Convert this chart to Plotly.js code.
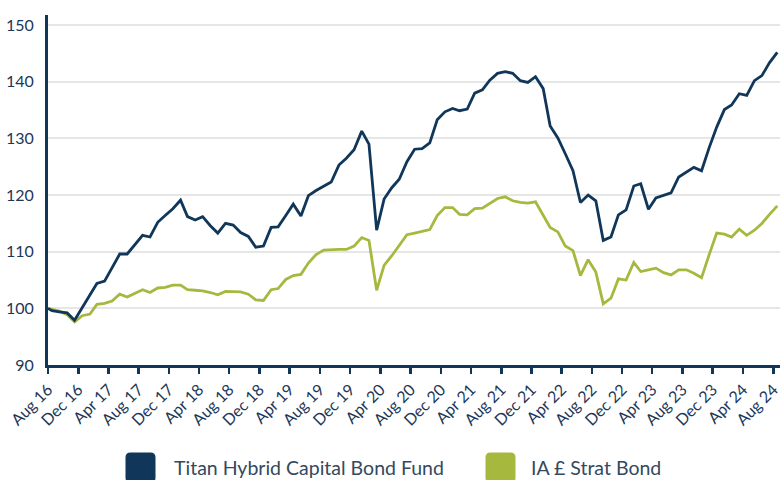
<!DOCTYPE html>
<html>
<head>
<meta charset="utf-8">
<script src="https://cdn.plot.ly/plotly-3.0.1.min.js"></script>
<style>html,body{margin:0;padding:0;background:#fff;}#chart{width:780px;height:480px;}</style>
</head>
<body>
<div id="chart"></div>
<script>
// Series names
const seriesNames = ["Titan Hybrid Capital Bond Fund", "IA £ Strat Bond"];

// Start date (launch) followed by month-end dates Aug 2016 .. Aug 2024
const startDate = "2016-08-15";
const firstMonthEnd = [2016, 8];
const monthCount = 97;

// Titan Hybrid Capital Bond Fund (rebased to 100)
const titan = [
  100.0, 99.6, 99.4, 99.2, 97.9, 100.1, 102.2, 104.4, 104.8, 107.2,
  109.6, 109.6, 111.2, 112.9, 112.6, 115.2, 116.4, 117.6, 119.1, 116.2,
  115.6, 116.2, 114.6, 113.3, 115.0, 114.7, 113.4, 112.7, 110.8, 111.0,
  114.3, 114.4, 116.4, 118.4, 116.3, 119.9, 120.8, 121.6, 122.3, 125.3,
  126.5, 128.0, 131.3, 129.0, 113.8, 119.3, 121.3, 122.8, 125.9, 128.1,
  128.2, 129.2, 133.3, 134.7, 135.3, 134.9, 135.2, 138.0, 138.6, 140.3,
  141.5, 141.8, 141.5, 140.2, 139.9, 140.9, 138.8, 132.2, 130.1, 127.3,
  124.3, 118.7, 120.0, 119.0, 112.0, 112.6, 116.5, 117.4, 121.6, 122.0,
  117.5, 119.5, 119.9, 120.4, 123.2, 124.0, 124.9, 124.3, 128.3, 132.0,
  135.1, 135.9, 137.9, 137.6, 140.2, 141.1, 143.4, 145.2
];

// IA £ Strat Bond sector (rebased to 100)
const iaStratBond = [
  100.0, 99.8, 99.5, 98.9, 97.6, 98.7, 99.0, 100.7, 100.9, 101.3,
  102.5, 102.0, 102.7, 103.3, 102.8, 103.6, 103.7, 104.1, 104.1, 103.3,
  103.2, 103.1, 102.8, 102.4, 103.0, 103.0, 102.9, 102.5, 101.5, 101.4,
  103.3, 103.5, 105.1, 105.8, 106.0, 108.0, 109.5, 110.3, 110.4, 110.4,
  110.4, 111.0, 112.5, 112.0, 103.2, 107.6, 109.3, 111.2, 113.0, 113.3,
  113.6, 113.9, 116.4, 117.8, 117.8, 116.6, 116.5, 117.6, 117.7, 118.6,
  119.4, 119.7, 119.0, 118.7, 118.6, 118.8, 116.5, 114.3, 113.5, 111.0,
  110.2, 105.8, 108.6, 106.4, 100.8, 101.8, 105.2, 105.0, 108.1, 106.5,
  106.8, 107.1, 106.3, 105.9, 106.8, 106.8, 106.2, 105.4, 109.4, 113.3,
  113.1, 112.6, 114.0, 112.9, 113.8, 115.0, 116.6, 118.1
];

// X tick positions and labels
const tickDates = [
  "2016-08-15","2016-12-15","2017-04-15","2017-08-15","2017-12-15",
  "2018-04-15","2018-08-15","2018-12-15","2019-04-15","2019-08-15",
  "2019-12-15","2020-04-15","2020-08-15","2020-12-15","2021-04-15",
  "2021-08-15","2021-12-15","2022-04-15","2022-08-15","2022-12-15",
  "2023-04-15","2023-08-15","2023-12-15","2024-04-15","2024-08-15"
];
const tickLabels = [
  "Aug 16","Dec 16","Apr 17","Aug 17","Dec 17","Apr 18","Aug 18","Dec 18",
  "Apr 19","Aug 19","Dec 19","Apr 20","Aug 20","Dec 20","Apr 21","Aug 21",
  "Dec 21","Apr 22","Aug 22","Dec 22","Apr 23","Aug 23","Dec 23","Apr 24","Aug 24"
];
const yTicks = [90, 100, 110, 120, 130, 140, 150];

// Build date categories
function pad(n){ return (n < 10 ? "0" : "") + n; }
const dates = [startDate];
for (let k = 0; k < monthCount; k++) {
  const m0 = firstMonthEnd[1] - 1 + k;
  const y = firstMonthEnd[0] + Math.floor(m0 / 12);
  const m = (m0 % 12) + 1;
  const last = new Date(Date.UTC(y, m, 0)).getUTCDate();
  dates.push(y + "-" + pad(m) + "-" + pad(last));
}

const NAVY = "#103759";
const GREEN = "#a7b83f";
const TEXT = "#1d3757";

const traces = [
  { x: dates, y: iaStratBond, type: "scatter", mode: "lines", name: seriesNames[1],
    line: { color: GREEN, width: 2.8 }, showlegend: false },
  { x: dates, y: titan, type: "scatter", mode: "lines", name: seriesNames[0],
    line: { color: NAVY, width: 2.8 }, showlegend: false }
];

// Legend built from swatches + labels
const plotL = 48, plotT = 15, plotW = 732, plotH = 350.3;
function px(x){ return (x - plotL) / plotW; }
function py(y){ return (plotT + plotH - y) / plotH; }
const swPath = "M -10,-15 L 10,-15 Q 15,-15 15,-10 L 15,10 Q 15,15 10,15 L -10,15 Q -15,15 -15,10 L -15,-10 Q -15,-15 -10,-15 Z";
const legendItems = [
  { color: NAVY, cx: 140.5, tx: 172, label: seriesNames[0] },
  { color: GREEN, cx: 500.5, tx: 529, label: seriesNames[1] }
];
const shapes = legendItems.map(it => ({
  type: "path", xref: "paper", yref: "paper", xsizemode: "pixel", ysizemode: "pixel",
  xanchor: px(it.cx), yanchor: py(468), path: swPath,
  fillcolor: it.color, line: { width: 0 }, layer: "above"
}));
const annotations = legendItems.map(it => ({
  xref: "paper", yref: "paper", x: px(it.tx), y: py(468), xanchor: "left", yanchor: "middle",
  text: it.label, showarrow: false, font: { family: "Lato, sans-serif", size: 19.5, color: "#34495e" }
}));

const layout = {
  width: 780, height: 480,
  margin: { l: plotL, r: 780 - plotL - plotW, t: plotT, b: 480 - plotT - plotH },
  paper_bgcolor: "#ffffff", plot_bgcolor: "#ffffff",
  showlegend: false,
  font: { family: "Lato, sans-serif", color: TEXT },
  xaxis: {
    type: "date", range: ["2016-08-15", "2024-09-11"],
    tickmode: "array", tickvals: tickDates, ticktext: tickLabels, tickangle: -45,
    tickfont: { size: 16, color: TEXT }, ticklabeloverflow: "allow",
    ticks: "outside", ticklen: 6, tickwidth: 2.5, tickcolor: NAVY,
    showline: true, linecolor: NAVY, linewidth: 3,
    showgrid: false, zeroline: false
  },
  yaxis: {
    range: [90, 151.8], tickmode: "array", tickvals: yTicks,
    tickfont: { size: 16, color: TEXT },
    showline: true, linecolor: NAVY, linewidth: 3,
    showgrid: true, gridcolor: "#e6e6e6", gridwidth: 2,
    zeroline: false, ticks: "", ticklabelstandoff: 8
  },
  shapes: shapes,
  annotations: annotations
};

Plotly.newPlot("chart", traces, layout, { staticPlot: true, displayModeBar: false });
</script>
</body>
</html>
